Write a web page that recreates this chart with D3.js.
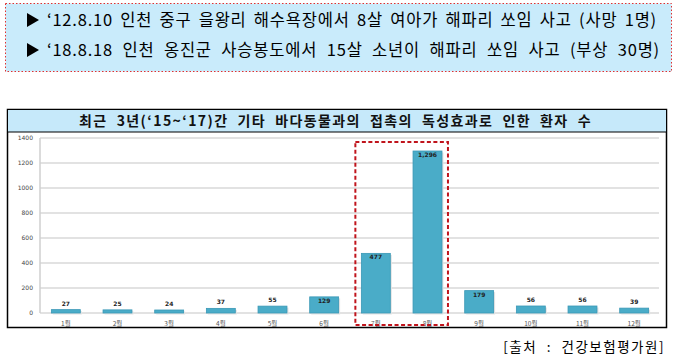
<!DOCTYPE html>
<html><head><meta charset="utf-8">
<script src="https://cdn.jsdelivr.net/npm/d3@7"></script>
<style>body{margin:0;background:#fff}svg{display:block}</style>
</head><body>
<script>
const months = ["1월","2월","3월","4월","5월","6월","7월","8월","9월","10월","11월","12월"];
const patients = [27,25,24,37,55,129,477,1296,179,56,56,39];
const yTicks = [0,200,400,600,800,1000,1200,1400];
const headerLines = ["'12.8.10 인천 중구 을왕리 해수욕장에서 8살 여아가 해파리 쏘임 사고 (사망 1명)",
                     "'18.8.18 인천 옹진군 사승봉도에서 15살 소년이 해파리 쏘임 사고 (부상 30명)"];
const chartTitle = "최근 3년('15~'17)간 기타 바다동물과의 접촉의 독성효과로 인한 환자 수";
const sourceText = "[출처 : 건강보험평가원]";
const highlight = ["7월","8월"];

const W=674,H=360;
const svg=d3.select("body").append("svg").attr("width",W).attr("height",H);
const font="'Noto Sans CJK KR','Noto Sans',sans-serif";

function fitWords(sel, target, ls){
  sel.attr("letter-spacing",ls);
  const t=sel.text(); const n=(t.match(/ /g)||[]).length;
  const w=sel.node().getComputedTextLength();
  if(n>0) sel.attr("word-spacing",Math.max(0,(target-w)/n));
}

// header box
svg.append("rect").attr("x",5.5).attr("y",3.5).attr("width",666).attr("height",68)
  .attr("fill","#c9ebfb").attr("stroke","#e03030").attr("stroke-width",1).attr("stroke-dasharray","1.5,2");
headerLines.forEach((t,i)=>{
  const y=[20,50][i];
  svg.append("path").attr("d",`M27,${y-7}L39,${y}L27,${y+7}Z`).attr("fill","#000");
  const tx=svg.append("text").attr("x",47).attr("y",y).attr("dy","0.35em")
    .attr("font-family",font).attr("font-size",16.5).attr("fill","#000").text(t.replace(/'/g,"‘"));
  fitWords(tx,[610,613][i],0.8);
});

// chart box
svg.append("rect").attr("x",7.5).attr("y",109.5).attr("width",659).attr("height",218)
  .attr("fill","#fff").attr("stroke","#000").attr("stroke-width",1.5);
svg.append("rect").attr("x",8).attr("y",110).attr("width",658).attr("height",22).attr("fill","#c6e9fa");
svg.append("line").attr("x1",7.5).attr("x2",666.5).attr("y1",132).attr("y2",132).attr("stroke","#000").attr("stroke-width",1.2);
const tt=svg.append("text").attr("x",79).attr("y",121).attr("dy","0.35em")
  .attr("font-family",font).attr("font-weight","bold").attr("font-size",14).attr("fill","#111").text(chartTitle.replace(/'/g,"‘"));
fitWords(tt,513,1.4);

const x=d3.scaleBand().domain(months).range([40,660]).paddingInner(0.44).paddingOuter(0.22);
const y=d3.scaleLinear().domain([0,1400]).range([313,138]);

// gridlines
svg.append("g").selectAll("line").data(yTicks).join("line")
  .attr("x1",40).attr("x2",659).attr("y1",d=>y(d)).attr("y2",d=>y(d))
  .attr("stroke","#d9d9d9").attr("stroke-width",1.3);
svg.append("line").attr("x1",40).attr("x2",40).attr("y1",138).attr("y2",313).attr("stroke","#cfcfcf").attr("stroke-width",1.5);

// y axis
const ya=svg.append("g").attr("transform","translate(33,0)").call(d3.axisLeft(y).tickValues(yTicks).tickSize(0).tickFormat(d3.format("d")));
ya.select(".domain").remove();
ya.selectAll("text").attr("font-family","'DejaVu Sans',sans-serif").attr("font-size",6).attr("fill","#444").attr("x",0);

// x axis
const xa=svg.append("g").attr("transform","translate(0,317)").call(d3.axisBottom(x).tickSize(0));
xa.select(".domain").remove();
xa.selectAll("text").attr("font-family",font).attr("font-size",6.5).attr("fill","#555").attr("dy","0.9em");

// bars shadow + bars
svg.append("g").selectAll("rect").data(patients).join("rect")
  .attr("x",(d,i)=>x(months[i])+1.5).attr("y",d=>y(d)+1.5).attr("width",x.bandwidth()).attr("height",d=>313-y(d))
  .attr("fill","#e3e3e3");
svg.append("g").selectAll("rect").data(patients).join("rect")
  .attr("x",(d,i)=>x(months[i])).attr("y",d=>y(d)).attr("width",x.bandwidth()).attr("height",d=>313-y(d))
  .attr("fill","#4aacc8").attr("stroke","#3a98b6").attr("stroke-width",0.8);

// labels
svg.append("g").selectAll("text").data(patients).join("text")
  .attr("x",(d,i)=>x(months[i])+x.bandwidth()/2)
  .attr("y",d=> d>=100 ? y(d)+6 : y(d)-4)
  .attr("text-anchor","middle").attr("font-family","'DejaVu Sans',sans-serif").attr("font-weight","bold")
  .attr("font-size",6).attr("fill","#222").text(d=>d3.format(",")(d));

// highlight dashed rect
const hx0=x(highlight[0])-6, hx1=x(highlight[1])+x.bandwidth()+6;
svg.append("rect").attr("x",hx0).attr("y",142).attr("width",hx1-hx0).attr("height",183)
  .attr("fill","none").attr("stroke","#c0141c").attr("stroke-width",2).attr("stroke-dasharray","4,2.5");

// source
svg.append("text").attr("x",665).attr("y",347).attr("dy","0.35em").attr("text-anchor","end")
  .attr("font-family",font).attr("font-size",13.5).attr("letter-spacing",1.5).attr("word-spacing",5).attr("fill","#000").text(sourceText);
</script>
</body></html>
